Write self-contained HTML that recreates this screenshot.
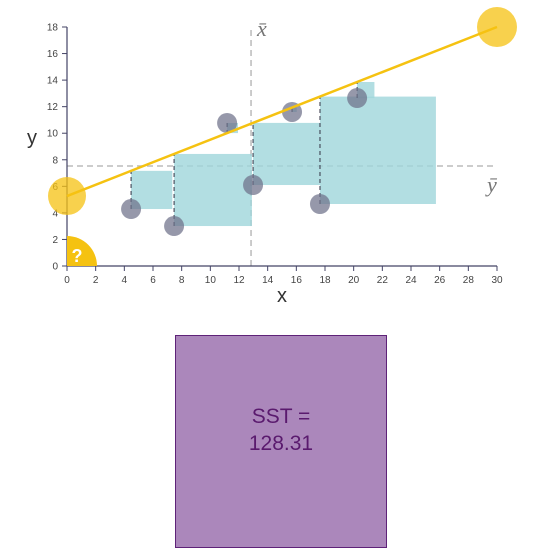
<!DOCTYPE html>
<html><head><meta charset="utf-8"><style>
body{margin:0;background:#fff;width:560px;height:559px;overflow:hidden;font-family:"Liberation Sans",sans-serif}
svg{position:absolute;left:0;top:0}
</style></head><body>
<svg width="560" height="559">
<g id="g"></g>
<rect x="175.5" y="335.5" width="211" height="212" fill="#ab87bb" stroke="#5e2278" stroke-width="1"/>
<text x="281" y="423" text-anchor="middle" font-size="21" fill="#5a1a6e">SST =</text>
<text x="281" y="450" text-anchor="middle" font-size="21" fill="#5a1a6e">128.31</text>
</svg>
<script>
const xs=[4.47,7.47,11.17,12.98,15.7,17.65,20.24];
const ys=[4.29,3.01,10.77,6.1,11.6,4.67,12.65];
const intercept=5.27, slope=0.4243;
const xTicks=[0,2,4,6,8,10,12,14,16,18,20,22,24,26,28,30];
const yTicks=[0,2,4,6,8,10,12,14,16,18];
const xbar=12.84, ybar=7.53;
const X=v=>67+v*(430/30), Y=v=>266-v*(239/18);
const NS="http://www.w3.org/2000/svg", g=document.getElementById('g');
function el(t,a,txt){const e=document.createElementNS(NS,t);for(const k in a)e.setAttribute(k,a[k]);if(txt!=null)e.textContent=txt;g.appendChild(e);return e;}
let e;
e=el('line',{x1:X(xbar),x2:X(xbar),y1:30,y2:266,stroke:'#bbb','stroke-dasharray':'6,4','stroke-width':1.5});


e=el('line',{x1:67,x2:497,y1:Y(ybar),y2:Y(ybar),stroke:'#bbb','stroke-dasharray':'6,4','stroke-width':1.5});


e=el('text',{x:X(xbar)+6,y:36,'font-size':22,fill:'#777','font-style':'italic','font-family':'Liberation Serif'},'x̄');


e=el('text',{x:487,y:192,'font-size':22,fill:'#777','font-style':'italic','font-family':'Liberation Serif'},'ȳ');


xs.forEach((x,i)=>{const ly=intercept+slope*x, r=Math.abs(ly-ys[i]);
 const s=el('rect',{x:X(x),y:Y(Math.max(ly,ys[i])),width:X(x+r)-X(x),height:Y(Math.min(ly,ys[i]))-Y(Math.max(ly,ys[i])),fill:'#9fd6db','fill-opacity':0.8});
 
 
 const d=el('line',{x1:X(x),x2:X(x),y1:Y(ys[i]),y2:Y(ly),stroke:'#334','stroke-dasharray':'4,3','stroke-width':1});
 
 
});
e=el('line',{x1:67,x2:497,y1:266,y2:266,stroke:'#444466','stroke-width':1.2});


e=el('line',{x1:67,x2:67,y1:27,y2:266,stroke:'#444466','stroke-width':1.2});


xTicks.forEach(t=>{el('line',{x1:X(t),x2:X(t),y1:266,y2:271,stroke:'#444466'});
 const l=el('text',{x:X(t),y:283,'font-size':10,fill:'#444','text-anchor':'middle'},t);
 
 });
yTicks.forEach(t=>{el('line',{x1:62,x2:67,y1:Y(t),y2:Y(t),stroke:'#444466'});
 const l=el('text',{x:58,y:Y(t)+3.5,'font-size':10,fill:'#444','text-anchor':'end'},t);
 
 });
e=el('text',{x:282,y:302,'font-size':20,fill:'#333','text-anchor':'middle'},'x');


e=el('text',{x:32,y:144,'font-size':20,fill:'#333','text-anchor':'middle'},'y');


e=el('path',{d:'M67 236 A30 30 0 0 1 97 266 L67 266 Z',fill:'#f5c211'});


el('text',{x:77,y:262,'font-size':18,fill:'#fff','font-weight':'bold','text-anchor':'middle'},'?');
xs.forEach((x,i)=>{const c=el('circle',{cx:X(x),cy:Y(ys[i]),r:10,fill:'#6e7089','fill-opacity':0.72});
 
 });
e=el('line',{x1:X(0),y1:Y(intercept),x2:X(30),y2:Y(intercept+slope*30),stroke:'#f5c211','stroke-width':2.5});


e=el('circle',{cx:X(0),cy:Y(intercept),r:19,fill:'#f5c211','fill-opacity':0.75});


e=el('circle',{cx:X(30),cy:Y(intercept+slope*30),r:20,fill:'#f5c211','fill-opacity':0.75});


</script>
</body></html>
